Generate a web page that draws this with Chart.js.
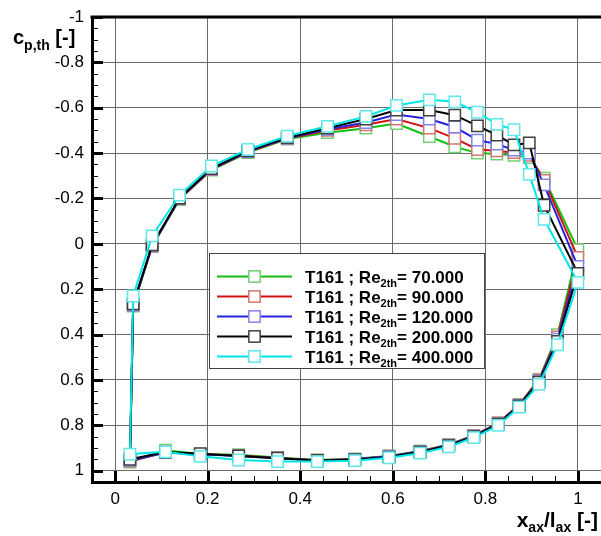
<!DOCTYPE html>
<html><head><meta charset="utf-8">
<script src="https://cdn.jsdelivr.net/npm/chart.js@4.4.1/dist/chart.umd.min.js"></script>
<style>html,body{margin:0;padding:0;background:#fff;overflow:hidden}canvas{display:block}</style>
</head><body>
<canvas id="c" width="601" height="536"></canvas>
<script>
// ---- data ----
const profile = 'T161';
const reLabels = ['70.000', '90.000', '120.000', '200.000', '400.000'];
const xTicks = [0, 0.2, 0.4, 0.6, 0.8, 1];
const yTicks = [-1, -0.8, -0.6, -0.4, -0.2, 0, 0.2, 0.4, 0.6, 0.8, 1];

// suction side, leading edge -> trailing edge
const suctionX = [0.039, 0.080, 0.139, 0.208, 0.287, 0.372, 0.459, 0.542, 0.608, 0.679, 0.734, 0.783, 0.825, 0.862, 0.895, 0.927, 1.000];
const suctionRe70  = [0.275, 0.012, -0.195, -0.325, -0.402, -0.462, -0.490, -0.510, -0.530, -0.473, -0.428, -0.400, -0.396, -0.390, -0.380, -0.290, 0.026];
const suctionRe90  = [0.270, 0.010, -0.198, -0.327, -0.405, -0.464, -0.500, -0.525, -0.550, -0.510, -0.465, -0.416, -0.410, -0.402, -0.390, -0.280, 0.060];
const suctionRe120 = [0.270, 0.008, -0.200, -0.330, -0.407, -0.466, -0.505, -0.535, -0.570, -0.550, -0.515, -0.457, -0.440, -0.413, -0.400, -0.260, 0.100];
const suctionRe200 = [0.265, 0.005, -0.202, -0.332, -0.410, -0.468, -0.510, -0.550, -0.590, -0.590, -0.567, -0.520, -0.479, -0.436, -0.445, -0.170, 0.130];
const suctionRe400 = [0.230, -0.035, -0.215, -0.343, -0.416, -0.475, -0.518, -0.562, -0.610, -0.635, -0.626, -0.580, -0.527, -0.503, -0.306, -0.108, 0.170];

// pressure side, trailing edge -> leading edge
const pressureX = [0.956, 0.916, 0.873, 0.828, 0.775, 0.721, 0.659, 0.592, 0.518, 0.437, 0.351, 0.267, 0.184, 0.109, 0.032];
const pressureRe70  = [0.400, 0.598, 0.708, 0.790, 0.845, 0.885, 0.913, 0.935, 0.948, 0.953, 0.942, 0.930, 0.927, 0.910, 0.962];
const pressureRe90  = [0.410, 0.600, 0.710, 0.790, 0.846, 0.886, 0.915, 0.936, 0.950, 0.954, 0.944, 0.933, 0.928, 0.920, 0.958];
const pressureRe120 = [0.420, 0.605, 0.712, 0.793, 0.848, 0.888, 0.916, 0.937, 0.950, 0.955, 0.945, 0.935, 0.928, 0.920, 0.955];
const pressureRe200 = [0.430, 0.610, 0.715, 0.795, 0.850, 0.890, 0.918, 0.940, 0.952, 0.955, 0.945, 0.935, 0.925, 0.918, 0.950];
const pressureRe400 = [0.445, 0.620, 0.720, 0.800, 0.854, 0.895, 0.923, 0.943, 0.956, 0.960, 0.960, 0.953, 0.937, 0.917, 0.927];

const suctionSeries = [suctionRe70, suctionRe90, suctionRe120, suctionRe200, suctionRe400];
const pressureSeries = [pressureRe70, pressureRe90, pressureRe120, pressureRe200, pressureRe400];

// ---- styles ----
const lineColors = ['#14c014', '#d01414', '#2424e0', '#000000', '#00e6e6'];
const markerColors = ['#74d074', '#d47474', '#8484e8', '#404040', '#5ee8e8'];
const FONT = '"Liberation Sans", Arial, sans-serif';
const MARK_R = 8;

function loop(si) {
  const pts = suctionX.map((x, i) => ({x: x, y: suctionSeries[si][i]}))
    .concat(pressureX.map((x, i) => ({x: x, y: pressureSeries[si][i]})));
  pts.push({x: pts[0].x, y: pts[0].y}); // close the contour
  return pts;
}

const datasets = reLabels.map((lab, i) => {
  const d = loop(i);
  return {
    label: profile + ' ; Re2th= ' + lab,
    data: d,
    showLine: true,
    borderColor: lineColors[i],
    borderWidth: 2,
    tension: 0,
    pointStyle: 'rect',
    pointRadius: ctx => ctx.dataIndex === d.length - 1 ? 0 : MARK_R,
    pointBackgroundColor: '#ffffff',
    pointBorderColor: markerColors[i],
    pointBorderWidth: 1.5,
    order: reLabels.length - i
  };
});

function drawRich(ctx, parts, x, y, align) {
  let total = 0;
  parts.forEach(p => { ctx.font = 'bold ' + p.s + 'px ' + FONT; total += ctx.measureText(p.t).width; });
  let cx = align === 'right' ? x - total : x;
  ctx.textAlign = 'left';
  ctx.textBaseline = 'alphabetic';
  parts.forEach(p => {
    ctx.font = 'bold ' + p.s + 'px ' + FONT;
    ctx.fillText(p.t, cx, y + (p.dy || 0));
    cx += ctx.measureText(p.t).width;
  });
}

const decor = {
  id: 'decor',
  afterDatasetsDraw(chart) {
    const ctx = chart.ctx;
    ctx.save();
    // legend box
    const bx = 209, by = 253, bw = 275, bh = 115;
    ctx.fillStyle = '#fff';
    ctx.fillRect(bx, by, bw, bh);
    ctx.strokeStyle = '#444';
    ctx.lineWidth = 1;
    ctx.strokeRect(bx + 0.5, by + 0.5, bw, bh);
    reLabels.forEach((lab, i) => {
      const cy = 276.5 + i * 20;
      ctx.strokeStyle = lineColors[i];
      ctx.lineWidth = 2;
      ctx.beginPath(); ctx.moveTo(217, cy); ctx.lineTo(292, cy); ctx.stroke();
      const s = MARK_R * Math.SQRT1_2;
      ctx.fillStyle = '#fff';
      ctx.fillRect(254.5 - s, cy - s, 2 * s, 2 * s);
      ctx.strokeStyle = markerColors[i];
      ctx.lineWidth = 1.5;
      ctx.strokeRect(254.5 - s, cy - s, 2 * s, 2 * s);
      ctx.fillStyle = '#000';
      drawRich(ctx, [{t: profile + ' ; Re', s: 17}, {t: '2th', s: 11, dy: 4}, {t: '= ' + lab, s: 17}], 305, cy + 6);
    });
    ctx.restore();
  },
  afterDraw(chart) {
    const ctx = chart.ctx, xs = chart.scales.x, ys = chart.scales.y, a = chart.chartArea;
    ctx.save();
    ctx.strokeStyle = '#000';
    // minor/major ticks, inward
    for (let k = -1; k <= 21; k++) {
      const v = k * 0.05;
      const px = Math.round(xs.getPixelForValue(v)) + 0.5;
      const major = k % 4 === 0;
      ctx.lineWidth = major ? 3 : 1;
      ctx.beginPath(); ctx.moveTo(px, a.bottom); ctx.lineTo(px, a.bottom - (major ? 11 : 6)); ctx.stroke();
    }
    for (let k = -20; k <= 21; k++) {
      const v = k * 0.05;
      const py = Math.round(ys.getPixelForValue(v)) + 0.5;
      const major = k % 4 === 0;
      ctx.lineWidth = major ? 3 : 1;
      ctx.beginPath(); ctx.moveTo(a.left, py); ctx.lineTo(a.left + (major ? 11 : 6), py); ctx.stroke();
    }
    // top frame
    ctx.lineWidth = 3;
    ctx.beginPath(); ctx.moveTo(a.left - 1.5, a.top); ctx.lineTo(a.right, a.top); ctx.stroke();
    // axis titles
    ctx.fillStyle = '#000';
    drawRich(ctx, [{t: 'c', s: 20}, {t: 'p,th', s: 14, dy: 6}, {t: ' [-]', s: 20}], 13, 43.5);
    drawRich(ctx, [{t: 'x', s: 21}, {t: 'ax', s: 14, dy: 5}, {t: '/', s: 21}, {t: 'l', s: 21}, {t: 'ax', s: 14, dy: 5}, {t: ' [-]', s: 21}], 598, 527, 'right');
    ctx.restore();
  }
};

new Chart(document.getElementById('c'), {
  type: 'scatter',
  data: {datasets: datasets},
  plugins: [decor],
  options: {
    responsive: false,
    devicePixelRatio: 1,
    animation: false,
    layout: {autoPadding: false, padding: {top: 17, left: 0, right: 0, bottom: 0}},
    plugins: {legend: {display: false}, tooltip: {enabled: false}},
    scales: {
      x: {
        type: 'linear', min: -0.05, max: 1.05,
        afterBuildTicks: s => { s.ticks = xTicks.map(v => ({value: v})); },
        afterFit: s => { s.height = 54; s.paddingLeft = 0; s.paddingRight = 0; },
        ticks: {color: '#000', font: {family: FONT, size: 17}, padding: 7, maxRotation: 0,
                callback: v => String(Math.round(v * 10) / 10)},
        grid: {color: '#6a6a6a', lineWidth: 1, drawTicks: false},
        border: {color: '#000', width: 3}
      },
      y: {
        type: 'linear', min: -1, max: 1.05, reverse: true,
        afterBuildTicks: s => { s.ticks = yTicks.map(v => ({value: v})); },
        afterFit: s => { s.width = 92; s.paddingTop = 0; s.paddingBottom = 0; },
        ticks: {color: '#000', font: {family: FONT, size: 17}, padding: 8,
                callback: v => String(Math.round(v * 10) / 10)},
        grid: {color: '#6a6a6a', lineWidth: 1, drawTicks: false},
        border: {color: '#000', width: 3}
      }
    }
  }
});
</script>
</body></html>
